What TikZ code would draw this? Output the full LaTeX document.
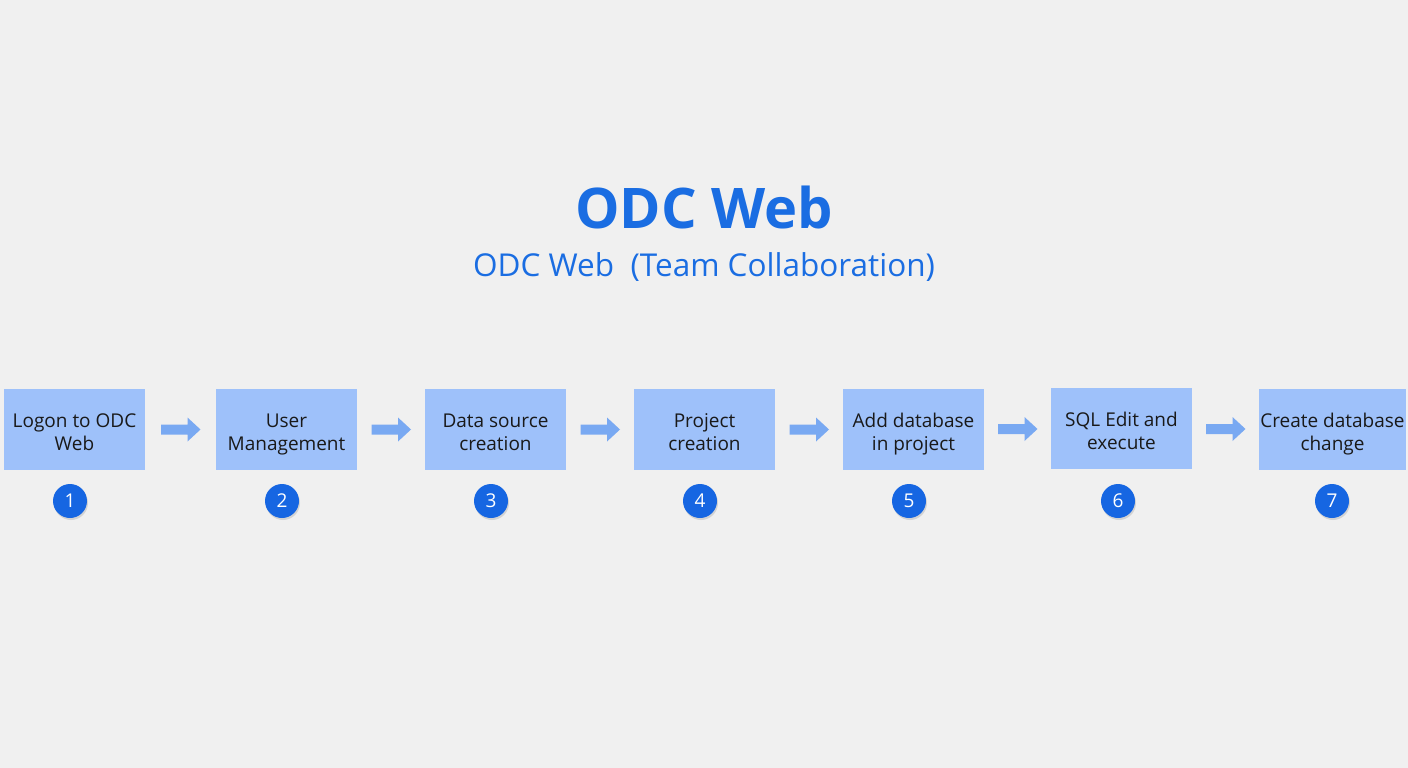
\documentclass[tikz,border=0pt]{standalone}
\usepackage{fontspec}
\setmainfont{Open Sans}
\usetikzlibrary{shadows}
\definecolor{bg}{HTML}{F0F0F0}
\definecolor{boxc}{HTML}{9EC1FA}
\definecolor{arrc}{HTML}{79A9F2}
\definecolor{dotc}{HTML}{1666E2}
\definecolor{titc}{HTML}{1A6DE2}
\newcommand{\twolines}[2]{\raisebox{-9pt}[0pt][0pt]{\begin{tabular}{@{}c@{}}#1\\#2\end{tabular}}}
\tikzset{
  stepbox/.style={fill=boxc, draw=none, minimum width=141pt, minimum height=81pt, inner sep=0pt, font=\fontsize{19pt}{23.5pt}\selectfont, text=black!90},
  numdot/.style={circle, fill=dotc, minimum size=34pt, inner sep=0pt, text=white, font=\fontsize{19pt}{20pt}\selectfont, drop shadow={shadow xshift=1pt, shadow yshift=-2pt, opacity=0.25}},
  flowarrow/.style={fill=arrc, draw=none}
}
\begin{document}
\begin{tikzpicture}[x=1pt,y=-1pt]
\fill[bg] (0,0) rectangle (1408,768);
\useasboundingbox (0,0) rectangle (1408,768);
\node[font=\bfseries\fontsize{56pt}{62pt}\selectfont, text=titc] (title) at (704,207) {ODC Web};
\node[font=\fontsize{31.5pt}{38pt}\selectfont, text=titc] (sub) at (704,267) {ODC Web\ \ (Team Collaboration)};
\node[stepbox] (b1) at (74.5,429.5) {\twolines{Logon to ODC}{Web}};
\node[stepbox] (b2) at (286.5,429.5) {\twolines{User}{Management}};
\node[stepbox] (b3) at (495.5,429.5) {\twolines{Data source}{creation}};
\node[stepbox] (b4) at (704.5,429.5) {\twolines{Project}{creation}};
\node[stepbox] (b5) at (913.5,429.5) {\twolines{Add database}{in project}};
\node[stepbox] (b6) at (1121.5,428.5) {\twolines{SQL Edit and}{execute}};
\node[stepbox, minimum width=147pt] (b7) at (1332.5,429.5) {\twolines{Create database}{change}};
\foreach \i/\x in {1/70,2/282,3/491,4/700,5/909,6/1118,7/1332}{
  \node[numdot] (n\i) at (\x,501) {\i};
}
\foreach \a/\b in {b1/b2,b2/b3,b3/b4,b4/b5,b5/b6,b6/b7}{
  \path (\a.east) -- (\b.west) coordinate[pos=0.5] (m\a);
  \fill[flowarrow] ([xshift=-19.5pt,yshift=-5pt]m\a) -- ([xshift=7pt,yshift=-5pt]m\a) -- ([xshift=7pt,yshift=-12pt]m\a) -- ([xshift=20pt]m\a) -- ([xshift=7pt,yshift=12pt]m\a) -- ([xshift=7pt,yshift=5pt]m\a) -- ([xshift=-19.5pt,yshift=5pt]m\a) -- cycle;
}
\end{tikzpicture}
\end{document}
